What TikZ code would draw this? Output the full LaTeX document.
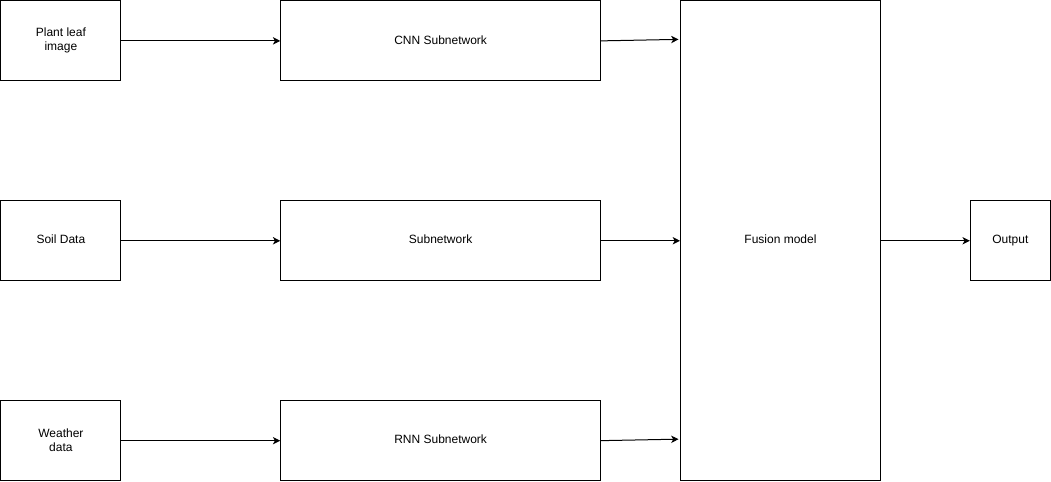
\documentclass[tikz,border=0pt]{standalone}
\usepackage{fontspec}
\setmainfont{Liberation Sans}
\usetikzlibrary{arrows.meta}
\begin{document}
\begin{tikzpicture}[x=0.75pt,y=-0.75pt,
  box/.style={draw=black, line width=0.75pt, fill=white, inner sep=0pt, align=center, font=\fontsize{9}{10.5}\selectfont, anchor=north west},
  one/.style={text height=6.6pt, text depth=1.9pt},
  arr/.style={line width=0.75pt, -{Stealth[length=5.5pt,width=5.5pt,inset=1.5pt]}}]
\useasboundingbox (-0.4,-0.4) rectangle (1051.2,481.6);
\node[box, minimum width=120*0.75pt, minimum height=80*0.75pt] (leaf) at (0,0) {Plant leaf\\image};
\node[box, one, minimum width=120*0.75pt, minimum height=80*0.75pt] (soil) at (0,200) {Soil Data};
\node[box, minimum width=120*0.75pt, minimum height=80*0.75pt] (weather) at (0,400) {Weather\\data};
\node[box, one, minimum width=320*0.75pt, minimum height=80*0.75pt] (cnn) at (280,0) {CNN Subnetwork};
\node[box, one, minimum width=320*0.75pt, minimum height=80*0.75pt] (sub) at (280,200) {Subnetwork};
\node[box, one, minimum width=320*0.75pt, minimum height=80*0.75pt] (rnn) at (280,400) {RNN Subnetwork};
\node[box, one, minimum width=200*0.75pt, minimum height=480*0.75pt] (fusion) at (680,0) {Fusion model};
\node[box, one, minimum width=80*0.75pt, minimum height=80*0.75pt] (out) at (970,200) {Output};
\coordinate (f1) at (678.5,39);
\coordinate (f3) at (678.5,439);
\draw[arr] (leaf.east) -- (cnn.west);
\draw[arr] (soil.east) -- (sub.west);
\draw[arr] (weather.east) -- (rnn.west);
\draw[arr] (cnn.east) -- (f1);
\draw[arr] (sub.east) -- (fusion.west);
\draw[arr] (rnn.east) -- (f3);
\draw[arr] (fusion.east) -- (out.west);
\end{tikzpicture}
\end{document}
